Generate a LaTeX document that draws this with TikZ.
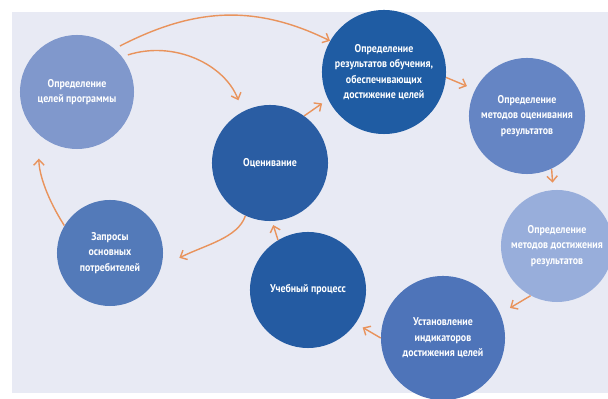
\documentclass[tikz,border=0pt]{standalone}
\usepackage{fontspec}
\setsansfont{PT Sans}[FakeStretch=0.88]
\usetikzlibrary{arrows.meta}

\definecolor{panel}{HTML}{E8EAF4}
\definecolor{arrowc}{HTML}{E9935C}
\definecolor{goalsc}{HTML}{8098CC}
\definecolor{evalc}{HTML}{2A5DA3}
\definecolor{resultsc}{HTML}{1F5CA3}
\definecolor{assessc}{HTML}{6585C4}
\definecolor{methodsc}{HTML}{98AEDB}
\definecolor{indicc}{HTML}{4E74B9}
\definecolor{processc}{HTML}{245BA2}
\definecolor{requestsc}{HTML}{537AB9}

\tikzset{
  stage/.style={circle, minimum size=#1, inner sep=0pt, text=white, align=center,
    font=\sffamily\bfseries\fontsize{8}{11}\selectfont},
  flow/.style={draw=arrowc, line width=1pt, -{Straight Barb[length=1.4mm,width=2.6mm]}},
}

\begin{document}
\begin{tikzpicture}[x=0.025cm, y=-0.025cm]
    \useasboundingbox (0,0) rectangle (608,399);
    % background
    \fill[white] (0,0) rectangle (608,399);
    \fill[panel] (12,12) rectangle (608,393);

    % circles
    \node[stage=2.85cm, fill=goalsc]    (goals)    at (77,92)   {Определение\\целей программы};
    \node[stage=2.9cm,  fill=evalc]     (eval)     at (270,163) {Оценивание};
    \node[stage=3.1cm,  fill=resultsc]  (results)  at (384,72)  {Определение\\результатов обучения,\\обеспечивающих\\достижение целей};
    \node[stage=2.9cm,  fill=assessc]   (assess)   at (527,116) {Определение\\методов оценивания\\результатов};
    \node[stage=2.8cm,  fill=methodsc]  (methods)  at (557,246) {Определение\\методов достижения\\результатов};
    \node[stage=3.1cm,  fill=indicc]    (indic)    at (443,338) {Установление\\индикаторов\\достижения целей};
    \node[stage=2.9cm,  fill=processc]  (process)  at (308,290) {Учебный процесс};
    \node[stage=2.65cm, fill=requestsc] (requests) at (110,253) {Запросы\\основных\\потребителей};

    % arrows
    \draw[flow, shorten <=0.15cm] (goals.49) .. controls (192,9) and (253,3) .. (results.150);
    \draw[flow, shorten <=0.15cm, shorten >=0.3cm] (goals.38) .. controls (175,40) and (225,65) .. (eval.118);
    \draw[flow, shorten >=0.18cm] (eval.54) -- (results.206);
    \draw[flow, shorten >=0.22cm] (results.-5) -- (assess.153);
    \draw[flow, shorten >=0.18cm] (assess.-65) -- (methods.94);
    \draw[flow, shorten >=0.28cm] (methods.242) -- (indic.23);
    \draw[flow, shorten >=0.2cm] (indic.180) -- (process.-35);
    \draw[flow, shorten >=0.1cm] (process.121) -- (eval.-88);
    \draw[flow, shorten >=0.5cm] (eval.245) .. controls (238,238) and (205,245) .. (requests.-15);
    \draw[flow, shorten >=0.6cm] (requests.149) .. controls (48,200) and (39,175) .. (goals.228);

\end{tikzpicture}
\end{document}
